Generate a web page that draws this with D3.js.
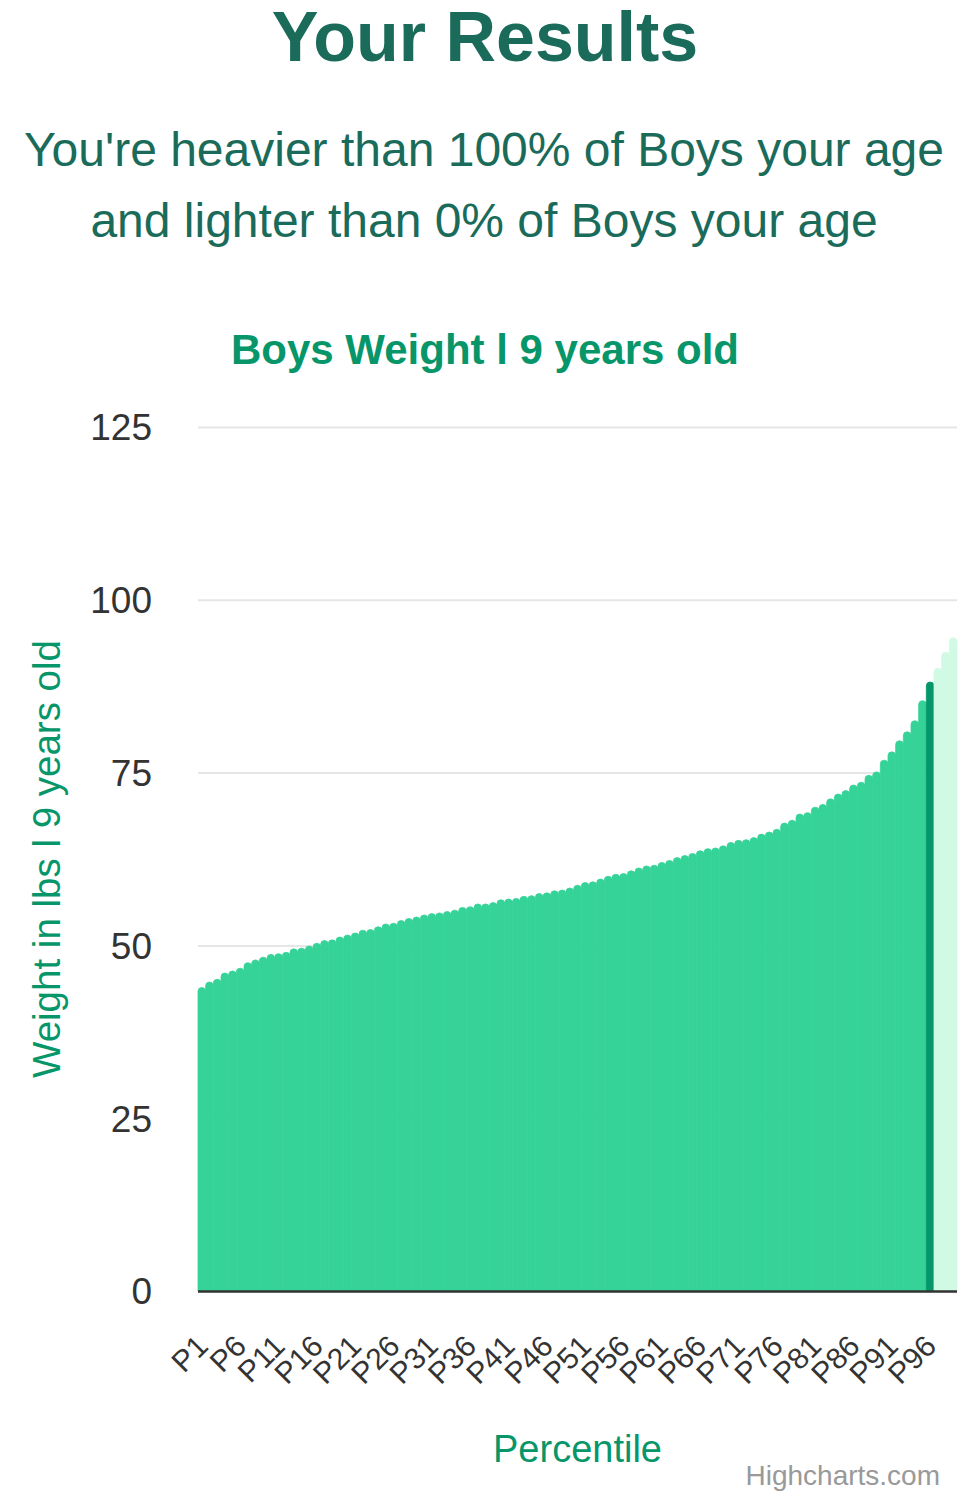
<!DOCTYPE html>
<html>
<head>
<meta charset="utf-8">
<script src="https://cdn.jsdelivr.net/npm/d3@7"></script>
<style>
  body { margin: 0; background: #fff; }
  svg { display: block; font-family: "Liberation Sans", Arial, Helvetica, sans-serif; }
</style>
</head>
<body>
<div id="chart"></div>
<script>
// weight (lbs) per percentile
const percentiles = d3.range(1, 100).map(d => "P" + d)
const weights = [
  43.9, 44.7, 45.1, 46.0, 46.3, 46.7, 47.5, 47.9, 48.3, 48.7,
  48.8, 49.0, 49.5, 49.6, 49.9, 50.3, 50.7, 50.8, 51.2, 51.5,
  51.8, 52.2, 52.3, 52.7, 53.1, 53.2, 53.6, 53.9, 54.1, 54.4,
  54.6, 54.7, 54.9, 55.1, 55.5, 55.6, 56.0, 56.0, 56.2, 56.6,
  56.7, 56.8, 57.1, 57.2, 57.5, 57.6, 57.9, 58.0, 58.3, 58.7,
  59.1, 59.2, 59.6, 60.0, 60.3, 60.4, 60.8, 61.2, 61.5, 61.6,
  62.0, 62.3, 62.7, 63.0, 63.3, 63.7, 64.0, 64.1, 64.4, 64.9,
  65.2, 65.3, 65.6, 66.1, 66.4, 66.8, 67.7, 68.1, 69.0, 69.2,
  70.0, 70.4, 71.2, 71.9, 72.4, 73.2, 73.6, 74.6, 75.1, 76.8,
  78.0, 79.6, 80.9, 82.5, 85.4, 88.1, 90.1, 92.4, 94.5
]
const userPercentile = "P96"
const yTicks = [0, 25, 50, 75, 100, 125]
const xTickLabels = d3.range(1, 100, 5).map(d => "P" + d)

const width = 975, height = 1500
const plot = { left: 198, right: 957, top: 427, bottom: 1291 }

const svg = d3.select("#chart")
  .append("svg")
  .attr("width", width)
  .attr("height", height)

// headings
svg.append("text")
  .attr("x", 485).attr("y", 61)
  .attr("text-anchor", "middle")
  .attr("font-size", 70).attr("font-weight", "bold")
  .attr("fill", "#1a6b5a")
  .text("Your Results")

const subLines = ["You're heavier than 100% of Boys your age", "and lighter than 0% of Boys your age"]
subLines.forEach((t, i) => {
  svg.append("text")
    .attr("x", 484).attr("y", 166 + i * 71)
    .attr("text-anchor", "middle")
    .attr("font-size", 48)
    .attr("fill", "#1a6b5a")
    .text(t)
})

svg.append("text")
  .attr("x", 485).attr("y", 364)
  .attr("text-anchor", "middle")
  .attr("font-size", 42).attr("font-weight", "bold")
  .attr("fill", "#079669")
  .text("Boys Weight l 9 years old")

// scales
const x = d3.scaleBand()
  .domain(percentiles)
  .range([plot.left, plot.right])
  .padding(0)

const y = d3.scaleLinear()
  .domain([0, 125])
  .range([plot.bottom, plot.top])

// grid + y labels
const yAxis = svg.append("g")
  .attr("transform", `translate(${plot.left},0)`)
  .call(d3.axisLeft(y).tickValues(yTicks).tickSize(-(plot.right - plot.left)).tickPadding(46))
yAxis.select(".domain").remove()
yAxis.selectAll(".tick line").attr("stroke", "#e6e6e6").attr("stroke-width", 2)
yAxis.selectAll(".tick text")
  .attr("font-size", 37)
  .attr("font-family", "inherit")
  .attr("fill", "#333")
  .attr("dy", "0.35em")

// bars with rounded tops
const colorOf = (p, i) => {
  const u = percentiles.indexOf(userPercentile)
  if (i === u) return "#059669"
  if (i > u) return "#d1fae5"
  return "#36d399"
}

function barPath(d, i) {
  const x0 = x(percentiles[i]), w = x.bandwidth()
  const yt = y(d), yb = y(0)
  const r = Math.min(3.8, w / 2)
  return `M${x0},${yb}V${yt + r}A${r},${r} 0 0 1 ${x0 + r},${yt}` +
    `H${x0 + w - r}A${r},${r} 0 0 1 ${x0 + w},${yt + r}V${yb}Z`
}

svg.append("g")
  .selectAll("path")
  .data(weights)
  .join("path")
  .attr("d", barPath)
  .attr("fill", colorOf)
  .attr("stroke", colorOf)
  .attr("stroke-width", 0.8)

// x axis line
svg.append("line")
  .attr("x1", plot.left).attr("x2", plot.right)
  .attr("y1", plot.bottom + 0.5).attr("y2", plot.bottom + 0.5)
  .attr("stroke", "#333").attr("stroke-width", 2.5)

// x tick labels, rotated
svg.append("g")
  .selectAll("text")
  .data(xTickLabels)
  .join("text")
  .attr("transform", d => `translate(${x(d) + x.bandwidth() / 2 + 8},1348) rotate(-45)`)
  .attr("text-anchor", "end")
  .attr("font-size", 30)
  .attr("fill", "#333")
  .text(d => d)

// axis titles
svg.append("text")
  .attr("transform", `translate(60,${(plot.top + plot.bottom) / 2}) rotate(-90)`)
  .attr("text-anchor", "middle")
  .attr("font-size", 38.5)
  .attr("fill", "#079669")
  .text("Weight in lbs l 9 years old")

svg.append("text")
  .attr("x", (plot.left + plot.right) / 2).attr("y", 1462)
  .attr("text-anchor", "middle")
  .attr("font-size", 38)
  .attr("fill", "#079669")
  .text("Percentile")

svg.append("text")
  .attr("x", 940).attr("y", 1485)
  .attr("text-anchor", "end")
  .attr("font-size", 28)
  .attr("fill", "#999")
  .text("Highcharts.com")
</script>
</body>
</html>
